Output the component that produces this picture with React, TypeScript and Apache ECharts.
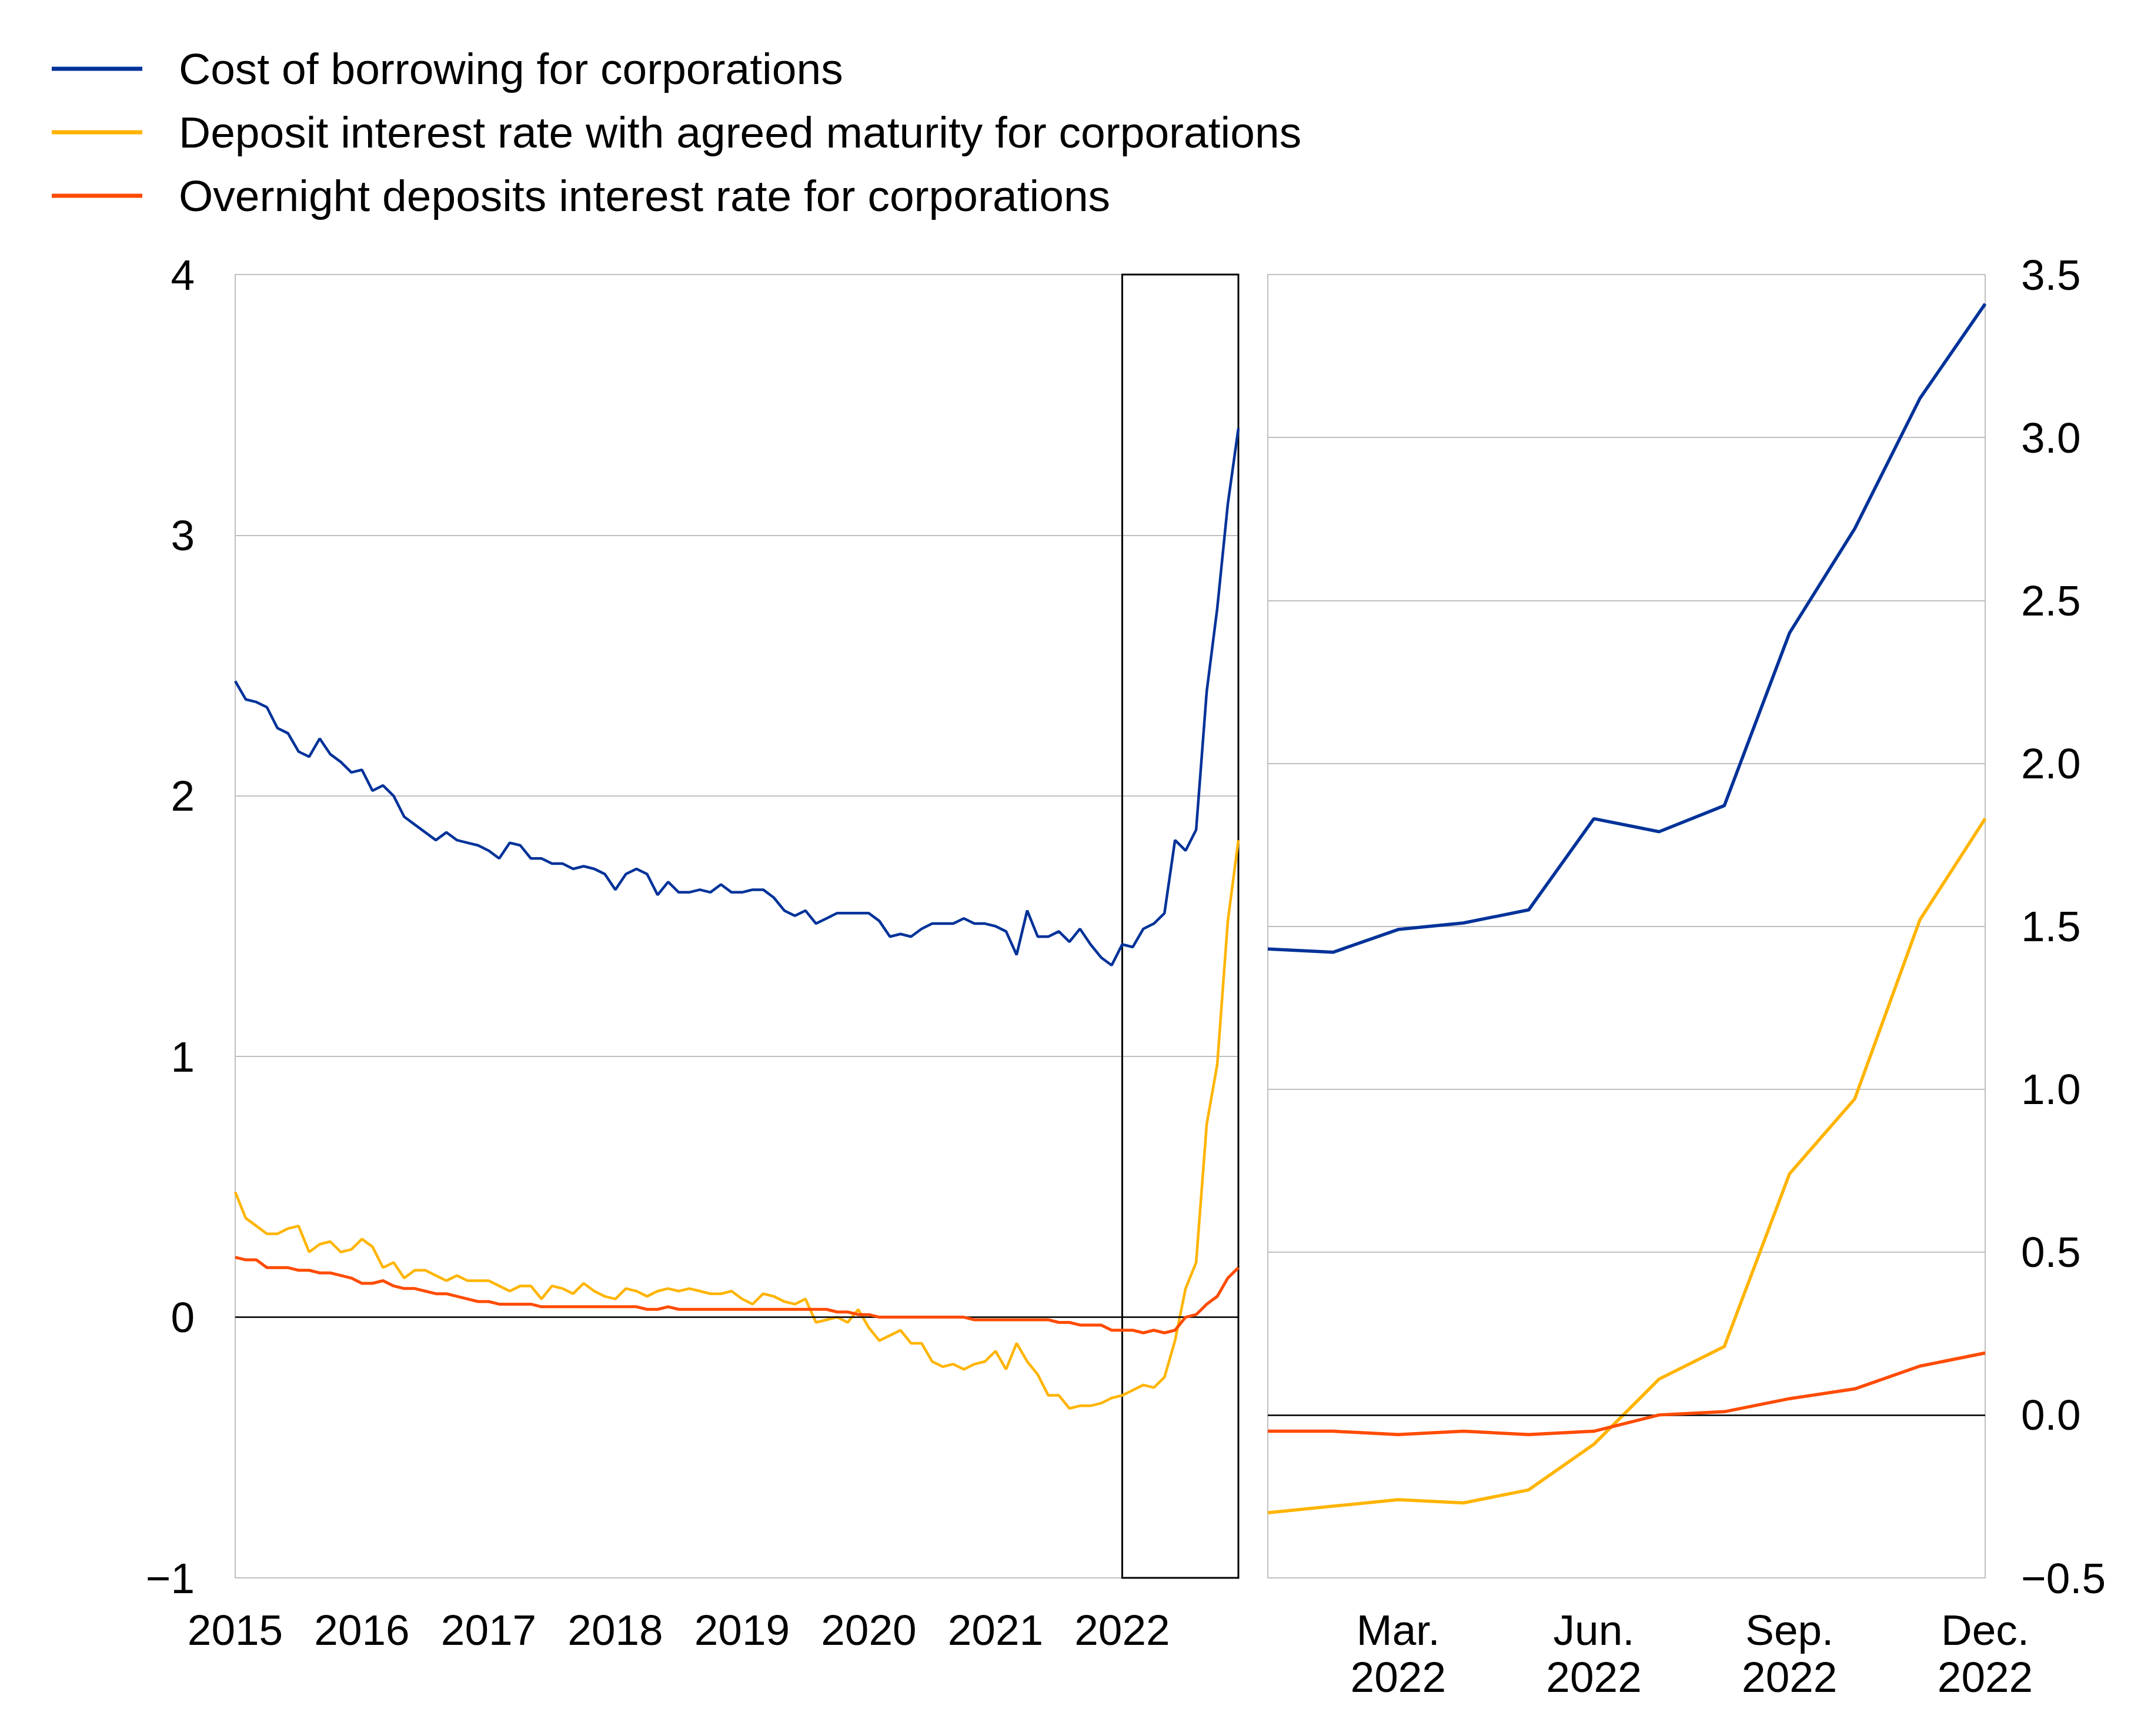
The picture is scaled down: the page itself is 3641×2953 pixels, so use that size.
import { useEffect, useRef } from 'react'
import * as echarts from 'echarts'

const FONT = '"Liberation Sans", Arial, Helvetica, sans-serif'

const years = [2015, 2016, 2017, 2018, 2019, 2020, 2021, 2022]
const monthNames = ['Jan.', 'Feb.', 'Mar.', 'Apr.', 'May', 'Jun.', 'Jul.', 'Aug.', 'Sep.', 'Oct.', 'Nov.', 'Dec.']

// monthly categories, Jan 2015 .. Dec 2022
const months: string[] = []
years.forEach(y => {
  for (let m = 1; m <= 12; m++) months.push(`${y}-${String(m).padStart(2, '0')}`)
})

const seriesNames = [
  'Cost of borrowing for corporations',
  'Deposit interest rate with agreed maturity for corporations',
  'Overnight deposits interest rate for corporations',
]
const colors = ['#003299', '#ffb400', '#ff4b00']
const leftWidths = [4.5, 4.5, 5]
const rightWidth = 5.5

// percentages per annum
const borrowing = [
  2.44, 2.37, 2.36, 2.34, 2.26, 2.24, 2.17, 2.15, 2.22, 2.16, 2.13, 2.09,
  2.10, 2.02, 2.04, 2.00, 1.92, 1.89, 1.86, 1.83, 1.86, 1.83, 1.82, 1.81,
  1.79, 1.76, 1.82, 1.81, 1.76, 1.76, 1.74, 1.74, 1.72, 1.73, 1.72, 1.70,
  1.64, 1.70, 1.72, 1.70, 1.62, 1.67, 1.63, 1.63, 1.64, 1.63, 1.66, 1.63,
  1.63, 1.64, 1.64, 1.61, 1.56, 1.54, 1.56, 1.51, 1.53, 1.55, 1.55, 1.55,
  1.55, 1.52, 1.46, 1.47, 1.46, 1.49, 1.51, 1.51, 1.51, 1.53, 1.51, 1.51,
  1.50, 1.48, 1.39, 1.56, 1.46, 1.46, 1.48, 1.44, 1.49, 1.43, 1.38, 1.35,
  1.43, 1.42, 1.49, 1.51, 1.55, 1.83, 1.79, 1.87, 2.40, 2.72, 3.12, 3.41,
]

const agreedMaturity = [
  0.48, 0.38, 0.35, 0.32, 0.32, 0.34, 0.35, 0.25, 0.28, 0.29, 0.25, 0.26,
  0.30, 0.27, 0.19, 0.21, 0.15, 0.18, 0.18, 0.16, 0.14, 0.16, 0.14, 0.14,
  0.14, 0.12, 0.10, 0.12, 0.12, 0.07, 0.12, 0.11, 0.09, 0.13, 0.10, 0.08,
  0.07, 0.11, 0.10, 0.08, 0.10, 0.11, 0.10, 0.11, 0.10, 0.09, 0.09, 0.10,
  0.07, 0.05, 0.09, 0.08, 0.06, 0.05, 0.07, -0.02, -0.01, 0.00, -0.02, 0.03,
  -0.04, -0.09, -0.07, -0.05, -0.10, -0.10, -0.17, -0.19, -0.18, -0.20, -0.18, -0.17,
  -0.13, -0.20, -0.10, -0.17, -0.22, -0.30, -0.30, -0.35, -0.34, -0.34, -0.33, -0.31,
  -0.30, -0.28, -0.26, -0.27, -0.23, -0.09, 0.11, 0.21, 0.74, 0.97, 1.52, 1.83,
]

const overnight = [
  0.23, 0.22, 0.22, 0.19, 0.19, 0.19, 0.18, 0.18, 0.17, 0.17, 0.16, 0.15,
  0.13, 0.13, 0.14, 0.12, 0.11, 0.11, 0.10, 0.09, 0.09, 0.08, 0.07, 0.06,
  0.06, 0.05, 0.05, 0.05, 0.05, 0.04, 0.04, 0.04, 0.04, 0.04, 0.04, 0.04,
  0.04, 0.04, 0.04, 0.03, 0.03, 0.04, 0.03, 0.03, 0.03, 0.03, 0.03, 0.03,
  0.03, 0.03, 0.03, 0.03, 0.03, 0.03, 0.03, 0.03, 0.03, 0.02, 0.02, 0.01,
  0.01, 0.00, 0.00, 0.00, 0.00, 0.00, 0.00, 0.00, 0.00, 0.00, -0.01, -0.01,
  -0.01, -0.01, -0.01, -0.01, -0.01, -0.01, -0.02, -0.02, -0.03, -0.03, -0.03, -0.05,
  -0.05, -0.05, -0.06, -0.05, -0.06, -0.05, 0.00, 0.01, 0.05, 0.08, 0.15, 0.19,
]

// zoomed panel: 2022 only
const zoomStart = months.indexOf('2022-01')

const fmtMinus = (v: number, digits: number) =>
  (v < 0 ? '\u2212' : '') + Math.abs(v).toFixed(digits)

export default function App() {
  const ref = useRef<HTMLDivElement>(null)

  useEffect(() => {
    if (!ref.current) return
    const chart = echarts.init(ref.current, undefined, { renderer: 'svg' })

    const values = [borrowing, agreedMaturity, overnight]
    const gridLine = { show: true, lineStyle: { color: '#bfbfbf', width: 2 } }
    const tickLabel = { color: '#000', fontSize: 73, fontFamily: FONT }
    const zeroLine = {
      silent: true,
      symbol: 'none',
      label: { show: false },
      lineStyle: { color: '#000', width: 2.5, type: 'solid', opacity: 1 },
      data: [{ yAxis: 0 }],
    }

    const leftSeries = values.map((d, i) => ({
      name: seriesNames[i],
      type: 'line',
      xAxisIndex: 0,
      yAxisIndex: 0,
      data: d,
      showSymbol: false,
      lineStyle: { color: colors[i], width: leftWidths[i] },
      itemStyle: { color: colors[i] },
      clip: false,
      z: 3 + i,
      markLine: i === 0 ? zeroLine : undefined,
      markArea: i === 2 ? {
        silent: true,
        itemStyle: { color: 'rgba(0,0,0,0)', borderColor: '#000', borderWidth: 3 },
        data: [[{ xAxis: months[zoomStart] }, { xAxis: months[months.length - 1] }]],
      } : undefined,
    }))

    const rightSeries = values.map((d, i) => ({
      name: seriesNames[i],
      type: 'line',
      xAxisIndex: 1,
      yAxisIndex: 1,
      data: d.slice(zoomStart),
      showSymbol: false,
      lineStyle: { color: colors[i], width: rightWidth },
      itemStyle: { color: colors[i] },
      z: 3 + i,
      markLine: i === 0 ? zeroLine : undefined,
    }))

    chart.setOption({
      animation: false,
      backgroundColor: '#fff',
      textStyle: { fontFamily: FONT },
      legend: {
        data: seriesNames,
        orient: 'vertical',
        left: 83,
        top: 72,
        icon: 'rect',
        itemWidth: 154,
        itemHeight: 7,
        itemGap: 28,
        selectedMode: false,
        textStyle: { color: '#000', fontSize: 75, lineHeight: 80, fontFamily: FONT, padding: [0, 0, 0, 57] },
      },
      grid: [
        { left: 400, right: 3641 - 2106, top: 467, bottom: 2953 - 2684, show: true, borderColor: '#bfbfbf', borderWidth: 2 },
        { left: 2156, right: 3641 - 3376, top: 467, bottom: 2953 - 2684, show: true, borderColor: '#bfbfbf', borderWidth: 2 },
      ],
      xAxis: [
        {
          type: 'category',
          gridIndex: 0,
          data: months,
          boundaryGap: false,
          axisLine: { show: false },
          axisTick: { show: false },
          splitLine: { show: false },
          axisLabel: {
            ...tickLabel,
            lineHeight: 80,
            margin: 48,
            interval: (idx: number) => idx % 12 === 0,
            formatter: (v: string) => v.slice(0, 4),
          },
        },
        {
          type: 'category',
          gridIndex: 1,
          data: months.slice(zoomStart),
          boundaryGap: false,
          axisLine: { show: false },
          axisTick: { show: false },
          splitLine: { show: false },
          axisLabel: {
            ...tickLabel,
            lineHeight: 80,
            margin: 48,
            interval: (idx: number) => idx % 3 === 2,
            formatter: (v: string) => `${monthNames[Number(v.slice(5)) - 1]}\n${v.slice(0, 4)}`,
          },
        },
      ],
      yAxis: [
        {
          type: 'value',
          gridIndex: 0,
          min: -1,
          max: 4,
          interval: 1,
          axisLine: { show: false },
          axisTick: { show: false },
          splitLine: gridLine,
          axisLabel: { ...tickLabel, margin: 69, formatter: (v: number) => fmtMinus(v, 0) },
        },
        {
          type: 'value',
          gridIndex: 1,
          position: 'right',
          min: -0.5,
          max: 3.5,
          interval: 0.5,
          axisLine: { show: false },
          axisTick: { show: false },
          splitLine: gridLine,
          axisLabel: { ...tickLabel, margin: 61, formatter: (v: number) => fmtMinus(v, 1) },
        },
      ],
      series: [...leftSeries, ...rightSeries] as any,
    })

    return () => chart.dispose()
  }, [])

  return (
    <div
      ref={ref}
      style={{ position: 'absolute', left: 0, top: 0, width: 3641, height: 2953, background: '#fff' }}
    />
  )
}
